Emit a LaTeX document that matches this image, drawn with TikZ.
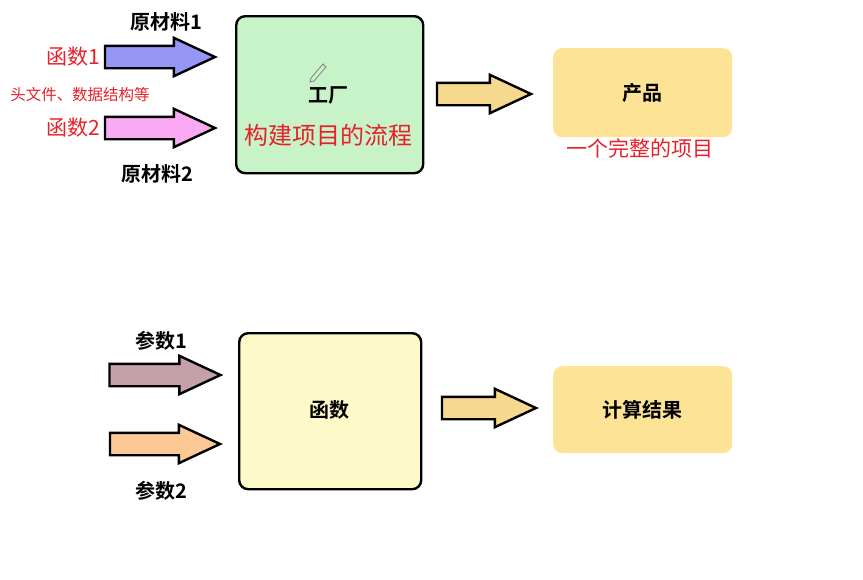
\documentclass[tikz,border=0pt]{standalone}
\usepackage{fontspec}
\setmainfont{Noto Sans CJK SC}[BoldFont={Noto Sans CJK SC Bold}]
\usetikzlibrary{shapes.arrows}
\definecolor{redt}{HTML}{E8202A}
\definecolor{cblue}{RGB}{150,150,245}
\definecolor{cpink}{RGB}{250,170,245}
\definecolor{cgreen}{RGB}{200,242,200}
\definecolor{cyel}{RGB}{246,217,142}
\definecolor{cprod}{RGB}{253,227,149}
\definecolor{cmauve}{RGB}{196,160,168}
\definecolor{cpeach}{RGB}{251,200,150}
\definecolor{cfunc}{RGB}{253,249,200}
\begin{document}
\begin{tikzpicture}[x=1pt,y=-1pt,
  arr/.style={single arrow, draw=black, line width=2.4pt, inner sep=10pt, minimum width=38pt,
    single arrow head extend=8pt, single arrow tip angle=50, anchor=center},
  box/.style={draw=black, line width=2.4pt, rounded corners=9pt, anchor=north west},
  pbox/.style={fill=#1, rounded corners=9pt, anchor=north west},
  lab/.style={font=\bfseries\fontsize{20}{20}\selectfont},
  red/.style={text=redt, font=\fontsize{#1}{#1}\selectfont}]
\useasboundingbox (0,0) rectangle (863,579);
% top
\node[arr, fill=cblue, minimum height=110pt] (a1) at (148,57) {};
\node[arr, fill=cpink, minimum height=110pt] (a2) at (148,128) {};
\node[box, fill=cgreen, minimum width=187pt, minimum height=157pt] (f) at (235,15) {};
\node[arr, fill=cyel, minimum height=94pt] (a3) at (472,94) {};
\node[pbox=cprod, minimum width=179pt, minimum height=89pt] (p) at (553,48) {};
\node[lab] (t1) at (166,22) {原材料1};
\node[lab] (t2) at (157,174) {原材料2};
\node[red=21] (r1) at (73,57) {函数1};
\node[red=21] (r2) at (73,128) {函数2};
\node[red=15.5] (r3) at (80,95) {头文件、数据结构等};
\node[lab] (gc) at (328,95) {工厂};
\draw[gray, line width=0.8pt] (311,78) -- (323,64) -- (326,67) -- (314,81) -- (310,82) -- cycle;
\node[red=24] (r4) at (328,135) {构建项目的流程};
\node[lab] (cp) at (642,93) {产品};
\node[red=21] (r5) at (640,148) {一个完整的项目};
% bottom
\node[arr, fill=cmauve, minimum height=111pt] (b1) at (153,375) {};
\node[arr, fill=cpeach, minimum height=110pt] (b2) at (153,444) {};
\node[box, fill=cfunc, minimum width=182pt, minimum height=156pt] (g) at (238,332) {};
\node[arr, fill=cyel, minimum height=94pt] (b3) at (477,408) {};
\node[pbox=cprod, minimum width=179pt, minimum height=87pt] (q) at (553,366) {};
\node[lab] (s1) at (161,341) {参数1};
\node[lab] (s2) at (161,491) {参数2};
\node[lab] (hs) at (329,410) {函数};
\node[lab] (js) at (642,410) {计算结果};
\end{tikzpicture}
\end{document}
